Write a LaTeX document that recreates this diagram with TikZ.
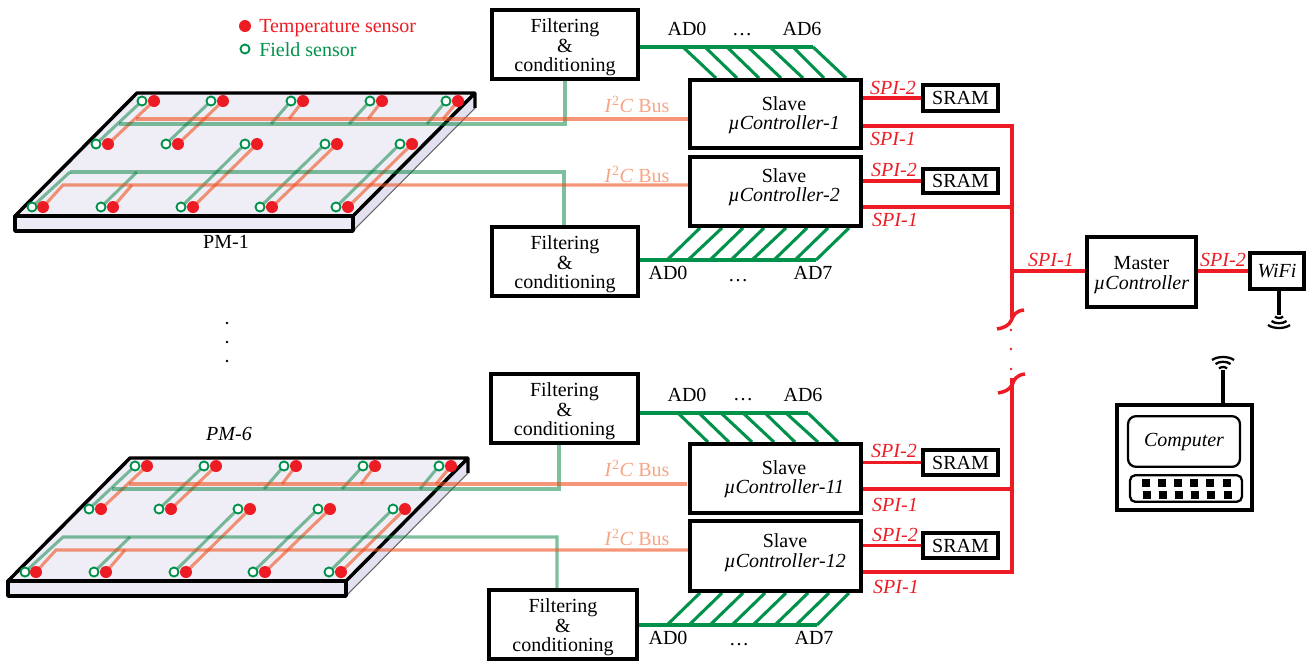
\documentclass[tikz,border=0pt]{standalone}
\usepackage{fontspec}
\setmainfont{Liberation Serif}
\usetikzlibrary{backgrounds,calc}
\definecolor{sred}{HTML}{ED1C24}
\definecolor{sgreen}{HTML}{00924A}
\definecolor{wgreen}{HTML}{00803C}
\definecolor{wred}{HTML}{F0501E}
\definecolor{lorange}{HTML}{F9A484}
\definecolor{ptop}{HTML}{EFEEF7}
\definecolor{pside}{HTML}{E3E1F0}
\newcommand{\lowertext}{\rule{0pt}{14.5pt}}
\tikzset{
  txt/.style={inner sep=0pt,font=\fontsize{15}{14.6}\selectfont,align=center},
  boxn/.style={draw=black,line width=2.9pt,fill=white,inner sep=0pt,align=center,font=\fontsize{15}{14.6}\selectfont},
  redlab/.style={txt,text=sred,font=\fontsize{15}{14.6}\selectfont\itshape},
  adlab/.style={txt},
  buslab/.style={txt,text=lorange},
  adwire/.style={draw=sgreen,line width=2.3pt},
  spi/.style={draw=sred,line width=2.3pt},
  fieldwire/.style={draw=wgreen,opacity=.5,line width=2.3pt},
  tempwire/.style={draw=wred,opacity=.6,line width=2.3pt},
  antenna/.style={draw=black,line width=2.3pt},
  wave/.style={draw=black,line width=1.7pt},
  tempdot/.style={circle,fill=sred,inner sep=0pt,minimum size=9pt},
  fielddot/.style={circle,draw=sgreen,line width=1.4pt,fill=white,inner sep=0pt,minimum size=6.8pt},
  tinydot/.style={circle,fill=black,inner sep=0pt,minimum size=2.2pt},
  tinyred/.style={circle,fill=sred,inner sep=0pt,minimum size=2.2pt},
  keyn/.style={fill=black,inner sep=0pt,minimum size=6pt},
}
% box from pixel corners
\newcommand{\pxbox}[6]{%
  \node[boxn,minimum width={(#4-#2)*0.75pt},minimum height={(#5-#3)*0.75pt}] (#1) at ({(#2+#4)/2},{(#3+#5)/2}) {#6};}
% sensor panel
\newcommand{\sensorpanel}[3]{%
\begin{scope}[shift={(#2,#3)},name prefix=#1-]
  \begin{pgfonlayer}{background}
    \fill[pside] (353,216)--(475,93)--(475,108)--(353,231)--cycle;
    \draw[black!60,line width=.8pt] (353,231)--(475,108);
    \fill[pside!70!white] (15,216) rectangle (353,231);
    \fill[ptop] (137,93)--(475,93)--(353,216)--(15,216)--cycle;
    \draw[black,line width=2.6pt,line join=bevel] (15,216) rectangle (353,231);
    \draw[black,line width=2.6pt,line join=round] (475,108)--(475,93)--(137,93)--(15,216)--(353,216)--(475,93);
  \end{pgfonlayer}
  \foreach \c/\g/\r in {1/142/154,2/211/223,3/291/303,4/370/382,5/446/458}{
    \node[fielddot] (g1\c) at (\g,101) {};
    \node[tempdot]  (r1\c) at (\r,101) {};}
  \foreach \c/\g/\r in {1/96/108,2/166/178,3/245/257,4/325/337,5/400/412}{
    \node[fielddot] (g2\c) at (\g,144) {};
    \node[tempdot]  (r2\c) at (\r,144) {};}
  \foreach \c/\g/\r in {1/32/43,2/101/113,3/181/193,4/260/272,5/336/348}{
    \node[fielddot] (g3\c) at (\g,207) {};
    \node[tempdot]  (r3\c) at (\r,207) {};}
  \coordinate (gu) at (119,124);
  \coordinate (ru) at (136,119);
  \coordinate (gl) at (70,172);
  \coordinate (rl) at (63,185);
  \begin{pgfonlayer}{background}
    \foreach \c in {1,2}{
      \draw[fieldwire] (g1\c.center)--(g2\c.center);
      \draw[tempwire] (r1\c.center)--(r2\c.center);}
    \foreach \c in {3,4,5}{
      \draw[fieldwire] (g2\c.center)--(g3\c.center);
      \draw[tempwire] (r2\c.center)--(r3\c.center);}
    \foreach \c/\g/\r in {3/271/289,4/349/368,5/427/443}{
      \draw[fieldwire] (g1\c.center)--(\g,124);
      \draw[tempwire] (r1\c.center)--(\r,119);}
    \draw[fieldwire] (g32.center)--(137,172);
    \draw[tempwire] (r32.center)--(132,185);
  \end{pgfonlayer}
\end{scope}}
\begin{document}
\begin{tikzpicture}[x=0.75pt,y=-0.75pt]
\useasboundingbox (0,0) rectangle (1309,662);
% Boxes
\pxbox{f1}{492}{10}{638}{79}{\lowertext Filtering\\\&\\conditioning}
\pxbox{f2}{492}{227}{638}{296}{\lowertext Filtering\\\&\\conditioning}
\pxbox{f3}{491}{374}{638}{443}{\lowertext Filtering\\\&\\conditioning}
\pxbox{f4}{489}{590}{637}{659}{\lowertext Filtering\\\&\\conditioning}
\pxbox{s1}{690}{80}{861}{148}{}
\pxbox{s2}{690}{157}{861}{226}{}
\pxbox{s3}{690}{444}{861}{513}{}
\pxbox{s4}{690}{521}{861}{591}{}
\node[txt] (t1) at (784,115) {Slave\\\itshape µController-1};
\node[txt] (t2) at (784,187) {Slave\\\itshape µController-2};
\node[txt] (t3) at (784,479) {Slave\\\itshape µController-11};
\node[txt] (t4) at (785,552.5) {Slave\\\itshape µController-12};
\pxbox{m1}{923}{85}{998}{111}{SRAM}
\pxbox{m2}{923}{169}{998}{193}{SRAM}
\pxbox{m3}{923}{450}{998}{475}{SRAM}
\pxbox{m4}{923}{533}{998}{558}{SRAM}
\pxbox{master}{1087}{237}{1196}{307}{\lowertext Master\\\itshape µController}
\pxbox{wifi}{1250}{253}{1304}{289}{\itshape WiFi}
% Computer
\pxbox{comp}{1117}{405}{1252}{510}{}
\node[draw=black,line width=1.7pt,rounded corners=6pt,fill=white,inner sep=0pt,minimum width=84pt,minimum height=38pt,font=\fontsize{15}{14.6}\selectfont\itshape] (screen) at (1184,441.5) {Computer};
\node[draw=black,line width=1.7pt,rounded corners=4pt,fill=white,inner sep=0pt,minimum width=84pt,minimum height=20pt] (keyb) at (1186,488.5) {};
\foreach \i/\x in {1/1146,2/1162,3/1178,4/1194,5/1210,6/1227}{
  \node[keyn] (ka\i) at (\x,483) {};
  \node[keyn] (kb\i) at (\x+1,495) {};}
% Panels
\sensorpanel{p1}{0}{0}
\sensorpanel{p6}{-7}{365}
% Wires
\coordinate (j1) at (565,124);
\coordinate (j2) at (564,172);
\coordinate (j3) at (559,489);
\coordinate (j4) at (557,537);
\coordinate (e3) at (687,484);
\coordinate (wj) at (1140,271);
\begin{pgfonlayer}{background}
  \draw[fieldwire] (p1-gu)--(j1)--(j1 |- f1.south);
  \draw[tempwire] (p1-ru)--(p1-ru -| s1.west);
  \draw[fieldwire] (p1-gl)--(j2)--(j2 |- f2.north);
  \draw[fieldwire] (p1-g31.center)--(p1-gl);
  \draw[tempwire] (p1-r31.center)--(p1-rl)--(p1-rl -| s2.west);
  \draw[fieldwire] (p6-gu)--(j3)--(j3 |- f3.south);
  \draw[tempwire] (p6-ru)--(e3);
  \draw[fieldwire] (p6-g31.center)--(p6-gl)--(j4)--(j4 |- f4.north);
  \draw[tempwire] (p6-r31.center)--(p6-rl)--(p6-rl -| s4.west);
  % AD buses
  \draw[adwire] (f1.east |- 0,47)--(813,47);
  \foreach \a/\b in {683/716,705/737,727/759,748/781,770/803,793/824,813/846}
    \draw[adwire] (\a,47)--(\b,0 |- s1.north);
  \draw[adwire] (f2.east |- 0,260)--(816,260);
  \foreach \a/\b in {667/700,688/722,710/743,731/764,752/786,774/807,795/828,816/849}
    \draw[adwire] (\a,260)--(\b,0 |- s2.south);
  \draw[adwire] (f3.east |- 0,413)--(808,413);
  \foreach \a/\b in {678/708,699/729,721/752,743/774,765/795,786/818,808/838}
    \draw[adwire] (\a,413)--(\b,0 |- s3.north);
  \draw[adwire] (f4.east |- 0,625)--(817,625);
  \foreach \a/\b in {667/700,689/722,710/743,732/765,753/786,775/808,796/829,817/849}
    \draw[adwire] (\a,625)--(\b,0 |- s4.south);
  % SPI
  \coordinate (bt) at (1012,126);
  \coordinate (bm) at (1012,318);
  \coordinate (bl) at (1012,378);
  \coordinate (bb) at (1012,572);
  \draw[spi] (s1.east |- bt)--(bt)--(bm);
  \draw[spi] (bl)--(bb)--(bb -| s4.east);
  \draw[spi] (s1.east |- m1)--(m1);
  \draw[spi] (s2.east |- m2)--(m2);
  \draw[spi] (s3.east |- m3)--(m3);
  \draw[spi] (s4.east |- m4)--(m4);
  \draw[spi] (s2.east |- 0,207)--(bt |- 0,207);
  \draw[spi] (s3.east |- 0,489)--(bt |- 0,489);
  \draw[spi] (bt |- wj)--(wj -| master.west);
  \draw[spi] (wj -| master.east)--(wj -| wifi.west);
  \draw[spi,line width=2.6pt] (1024,310) .. controls (1015,311) and (1013,316) .. (1011.5,320) .. controls (1009,326) and (1003,328) .. (997,329);
  \draw[spi,line width=2.6pt] (1025,374) .. controls (1016,375) and (1014,380) .. (1012.5,384) .. controls (1010,390) and (1004,392) .. (998,393);
  % Antennas
  \coordinate (ant1) at (1279,315);
  \coordinate (ant2) at (1223,370);
  \draw[antenna] (wifi.south -| ant1)--(ant1);
  \draw[antenna] (comp.north -| ant2)--(ant2);
\end{pgfonlayer}
% Waves
\foreach \w/\y/\h in {4/316.5/2,7.5/321/3,11/325/4}
  \draw[wave] ($(ant1 |- 0,\y)+(-\w,0)$) .. controls +(\w/2,\h) and +(-\w/2,\h) .. ($(ant1 |- 0,\y)+(\w,0)$);
\foreach \w/\y/\h in {4/368.5/2,7.5/364/3,11/360/4}
  \draw[wave] ($(ant2 |- 0,\y)+(-\w,0)$) .. controls +(\w/2,-\h) and +(-\w/2,-\h) .. ($(ant2 |- 0,\y)+(\w,0)$);
% Red dots
\foreach \i/\y in {1/330,2/349,3/369} \node[tinyred] (rd\i) at (1011,\y) {};
% Black dots
\foreach \i/\y in {1/323,2/342,3/361} \node[tinydot] (bd\i) at (227,\y) {};
% Legend
\node[tempdot] (leg1) at (245,26) {};
\node[fielddot] (leg2) at (245,49) {};
\node[txt,text=sred,anchor=west] (legt1) at (259,28) {Temperature sensor};
\node[txt,text=sgreen,anchor=west] (legt2) at (259,49.5) {Field sensor};
% Labels
\node[txt] (pm1) at (226,242) {PM-1};
\node[txt,font=\fontsize{15}{14.6}\selectfont\itshape] (pm6) at (229,434) {PM-6};
\foreach \n/\x/\y/\t in {a/687/29/AD0,b/742/35/\ldots,c/802/29/AD6,d/668/273/AD0,e/738/281/\ldots,f/813/273/AD7,g/687/395/AD0,h/743/400/\ldots,i/803/395/AD6,j/668/638/AD0,k/739/645/\ldots,l/814/638/AD7}
  \node[adlab] (ad\n) at (\x,\y) {\t};
\foreach \n/\y in {a/104,b/174,c/468.5,d/537}
  \node[buslab] (bus\n) at (637,\y) {\textit{I}\textsuperscript{2}\textit{C} Bus};
\foreach \n/\x/\y/\t in {a/893/88/SPI-2,b/893/139/SPI-1,c/894/170/SPI-2,d/895/220/SPI-1,e/894/451/SPI-2,f/895/505/SPI-1,g/895/535/SPI-2,h/896/587/SPI-1,i/1051/260/SPI-1,j/1223/260/SPI-2}
  \node[redlab] (spi\n) at (\x,\y) {\t};
\end{tikzpicture}
\end{document}
